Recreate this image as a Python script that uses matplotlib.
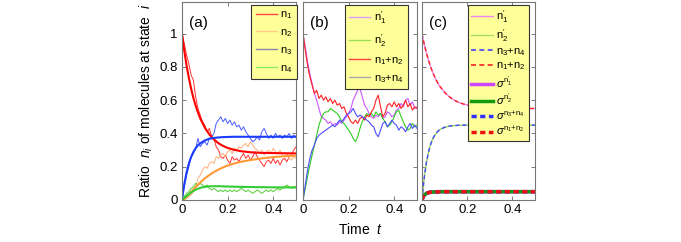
import matplotlib
matplotlib.use("Agg")
import matplotlib.pyplot as plt
from matplotlib.lines import Line2D

# smooth (mean-field) curves, sampled on a non-uniform time grid
t_smooth = [0, 0.005, 0.01, 0.02, 0.03, 0.04, 0.05, 0.06, 0.07, 0.08, 0.1, 0.12,
            0.14, 0.16, 0.18, 0.2, 0.23, 0.26, 0.3, 0.35, 0.4, 0.45, 0.5]
n1_smooth = [1.0, 0.947, 0.897, 0.809, 0.734, 0.669, 0.613, 0.566, 0.526, 0.49, 0.435, 0.394,
             0.364, 0.341, 0.325, 0.313, 0.301, 0.293, 0.287, 0.283, 0.282, 0.281, 0.28]
n2_smooth = [0, 0.002, 0.006, 0.018, 0.033, 0.048, 0.063, 0.078, 0.092, 0.105, 0.13, 0.15,
             0.168, 0.183, 0.196, 0.207, 0.22, 0.23, 0.24, 0.25, 0.258, 0.263, 0.267]
n3_smooth = [0, 0.051, 0.095, 0.165, 0.219, 0.259, 0.289, 0.312, 0.329, 0.341, 0.358, 0.368,
             0.373, 0.376, 0.378, 0.379, 0.38, 0.38, 0.38, 0.38, 0.38, 0.38, 0.38]
n4_smooth = [0, 0.006, 0.012, 0.024, 0.035, 0.045, 0.054, 0.062, 0.068, 0.073, 0.079, 0.082,
             0.083, 0.083, 0.082, 0.081, 0.08, 0.079, 0.078, 0.077, 0.076, 0.076, 0.075]

# panel (c) curves
c_decay = [1.0, 0.967, 0.936, 0.881, 0.834, 0.793, 0.758, 0.729, 0.703, 0.681, 0.647, 0.621,
           0.602, 0.588, 0.578, 0.571, 0.563, 0.558, 0.554, 0.552, 0.551, 0.55, 0.55]
c_rise = [0, 0.073, 0.135, 0.23, 0.296, 0.342, 0.374, 0.397, 0.413, 0.424, 0.437, 0.444,
          0.447, 0.449, 0.45, 0.45, 0.45, 0.45, 0.45, 0.45, 0.45, 0.45, 0.45]
c_sigma = [0, 0.02, 0.03, 0.04, 0.045, 0.047, 0.048, 0.049, 0.049, 0.05, 0.05, 0.05,
           0.05, 0.05, 0.05, 0.05, 0.05, 0.05, 0.05, 0.05, 0.05, 0.05, 0.05]

# stochastic runs, every 0.01
t_run = [i / 100 for i in range(51)]
n1_run = [1.0, 0.94, 0.87, 0.82, 0.75, 0.72, 0.62, 0.55, 0.51, 0.47, 0.45, 0.41, 0.43, 0.38, 0.37,
          0.32, 0.3, 0.26, 0.25, 0.27, 0.24, 0.22, 0.26, 0.24, 0.25, 0.23, 0.26, 0.28, 0.25, 0.27,
          0.24, 0.26, 0.29, 0.26, 0.24, 0.22, 0.2, 0.23, 0.24, 0.22, 0.25, 0.22, 0.24, 0.21, 0.24,
          0.25, 0.23, 0.26, 0.27, 0.3, 0.32]
n2_run = [0, 0, 0.01, 0.02, 0.03, 0.05, 0.08, 0.13, 0.15, 0.18, 0.2, 0.19, 0.22, 0.23, 0.22,
          0.26, 0.25, 0.27, 0.28, 0.26, 0.29, 0.3, 0.28, 0.31, 0.3, 0.32, 0.31, 0.33, 0.34, 0.32,
          0.35, 0.33, 0.31, 0.3, 0.28, 0.3, 0.27, 0.29, 0.3, 0.28, 0.31, 0.29, 0.28, 0.3, 0.27,
          0.26, 0.28, 0.25, 0.24, 0.26, 0.25]
n3_run = [0, 0.08, 0.15, 0.2, 0.26, 0.28, 0.31, 0.37, 0.32, 0.34, 0.35, 0.33, 0.37, 0.38, 0.4,
          0.46, 0.48, 0.5, 0.47, 0.49, 0.46, 0.48, 0.45, 0.47, 0.44, 0.45, 0.42, 0.44, 0.41, 0.39,
          0.37, 0.35, 0.36, 0.38, 0.36, 0.41, 0.43, 0.4, 0.37, 0.39, 0.37, 0.4, 0.38, 0.39, 0.37,
          0.39, 0.38, 0.4, 0.37, 0.39, 0.38]
n4_run = [0, 0.02, 0.04, 0.05, 0.07, 0.08, 0.1, 0.09, 0.1, 0.09, 0.08, 0.09, 0.07, 0.06, 0.07,
          0.06, 0.05, 0.06, 0.05, 0.06, 0.05, 0.06, 0.05, 0.06, 0.05, 0.06, 0.07, 0.06, 0.05, 0.06,
          0.05, 0.04, 0.05, 0.06, 0.05, 0.04, 0.05, 0.06, 0.05, 0.06, 0.05, 0.06, 0.07, 0.06, 0.07,
          0.08, 0.09, 0.08, 0.07, 0.08, 0.08]

n1p_run = [1.0, 0.92, 0.83, 0.76, 0.7, 0.64, 0.6, 0.55, 0.5, 0.49, 0.48, 0.46, 0.47, 0.45, 0.46,
           0.45, 0.47, 0.46, 0.48, 0.5, 0.52, 0.55, 0.6, 0.63, 0.66, 0.67, 0.62, 0.57, 0.55, 0.52,
           0.5, 0.49, 0.51, 0.5, 0.52, 0.49, 0.5, 0.53, 0.52, 0.5, 0.51, 0.54, 0.55, 0.58, 0.56,
           0.6, 0.61, 0.57, 0.59, 0.55, 0.56]
n2p_run = [0, 0.07, 0.14, 0.21, 0.27, 0.33, 0.39, 0.45, 0.49, 0.52, 0.53, 0.53, 0.55, 0.54, 0.53,
           0.52, 0.5, 0.47, 0.46, 0.44, 0.42, 0.4, 0.37, 0.35, 0.38, 0.43, 0.47, 0.5, 0.52, 0.51,
           0.52, 0.5, 0.53, 0.51, 0.52, 0.49, 0.47, 0.44, 0.45, 0.47, 0.5, 0.53, 0.54, 0.5, 0.47,
           0.44, 0.42, 0.43, 0.46, 0.44, 0.45]
n12_run = [1.0, 0.9, 0.81, 0.74, 0.69, 0.64, 0.66, 0.61, 0.63, 0.6, 0.62, 0.59, 0.61, 0.58, 0.6,
           0.57, 0.58, 0.55, 0.56, 0.52, 0.5, 0.47, 0.46, 0.48, 0.46, 0.49, 0.5, 0.48, 0.51, 0.5,
           0.53, 0.55, 0.6, 0.63, 0.56, 0.5, 0.52, 0.57, 0.58, 0.56, 0.59, 0.56, 0.58, 0.55, 0.57,
           0.6, 0.56, 0.58, 0.54, 0.56, 0.55]
n34_run = [0, 0.09, 0.18, 0.25, 0.3, 0.33, 0.37, 0.39, 0.4, 0.41, 0.42, 0.43, 0.44, 0.45, 0.44,
           0.46, 0.48, 0.47, 0.49, 0.51, 0.52, 0.53, 0.55, 0.52, 0.5, 0.51, 0.5, 0.49, 0.48, 0.47,
           0.45, 0.44, 0.4, 0.38, 0.42, 0.46, 0.47, 0.44, 0.46, 0.48, 0.46, 0.45, 0.42, 0.44, 0.43,
           0.41, 0.44, 0.46, 0.43, 0.45, 0.43]

x_ticks = [0, 0.2, 0.4]
y_ticks = [0, 0.2, 0.4, 0.6, 0.8, 1]
y_ticklabels = ["0", "0.2", "0.4", "0.6", "0.8", "1"]

plt.rcParams["font.family"] = ["Liberation Sans", "DejaVu Sans"]
plt.rcParams["mathtext.fontset"] = "custom"
plt.rcParams["mathtext.rm"] = "Liberation Sans"
plt.rcParams["mathtext.it"] = "Liberation Sans:italic"

fig = plt.figure(figsize=(6.81, 2.42), dpi=100)
W, H = 681, 242
ax_a = fig.add_axes([182 / W, 42 / H, 114 / W, 198 / H])
ax_b = fig.add_axes([303 / W, 42 / H, 114 / W, 198 / H])
ax_c = fig.add_axes([422 / W, 42 / H, 113 / W, 198 / H])

for ax in (ax_a, ax_b, ax_c):
    ax.set_xlim(0, 0.5)
    ax.set_ylim(0, 1.19)
    ax.set_xticks(x_ticks)
    ax.set_xticklabels(["0", "0.2", "0.4"])
    ax.set_yticks(y_ticks)
    ax.tick_params(direction="in", top=True, right=True, length=3, width=0.6,
                   color="#666666", labelsize=9.5, pad=3)
    for s in ax.spines.values():
        s.set_color("#777777")
        s.set_linewidth(0.8)

ax_a.set_yticklabels(y_ticklabels)
ax_b.set_yticklabels([])
ax_c.set_yticklabels([])

# panel (a)
ax_a.plot(t_run, n1_run, color="#ff3030", lw=0.7)
ax_a.plot(t_run, n2_run, color="#ffb07a", lw=0.7)
ax_a.plot(t_run, n3_run, color="#4a5cff", lw=0.7)
ax_a.plot(t_run, n4_run, color="#55cc33", lw=0.7)
ax_a.plot(t_smooth, n1_smooth, color="#ff0000", lw=1.5)
ax_a.plot(t_smooth, n2_smooth, color="#ff9933", lw=1.5)
ax_a.plot(t_smooth, n3_smooth, color="#1a3cff", lw=1.5)
ax_a.plot(t_smooth, n4_smooth, color="#33cc33", lw=1.5)

# panel (b)
ax_b.plot(t_run, n1p_run, color="#cc55ff", lw=0.8)
ax_b.plot(t_run, n2p_run, color="#33cc22", lw=0.8)
ax_b.plot(t_run, n12_run, color="#ff2020", lw=0.8)
ax_b.plot(t_run, n34_run, color="#4d4dff", lw=0.8)

# panel (c)
ax_c.plot(t_smooth, c_decay, color="#ee88ee", lw=1.0)
ax_c.plot(t_smooth, c_rise, color="#99dd55", lw=1.0)
ax_c.plot(t_smooth, c_rise, color="#4444ff", lw=1.0, ls=(0, (3, 2)))
ax_c.plot(t_smooth, c_decay, color="#ff2222", lw=1.0, ls=(0, (3, 2)))
ax_c.plot(t_smooth, c_sigma, color="#cc44ff", lw=2.5)
ax_c.plot(t_smooth, c_sigma, color="#119911", lw=2.5)
ax_c.plot(t_smooth, c_sigma, color="#3333ff", lw=2.5, ls=(0, (1.5, 1)))
ax_c.plot(t_smooth, c_sigma, color="#ee1111", lw=2.5, ls=(0, (1.5, 1)))

leg_kw = dict(loc="upper right", fontsize=8, frameon=True, fancybox=False,
              facecolor="#ffff99", edgecolor="#333333", framealpha=1,
              handlelength=1.9, handletextpad=0.3, labelspacing=0.55, borderpad=0.4,
              borderaxespad=0.0)

h_a = [Line2D([], [], color="#ff4444", lw=1.0), Line2D([], [], color="#ffcc88", lw=1.0),
       Line2D([], [], color="#8888aa", lw=1.0), Line2D([], [], color="#88ee66", lw=1.0)]
l_a = [r"$\mathrm{n}_1$", r"$\mathrm{n}_2$", r"$\mathrm{n}_3$", r"$\mathrm{n}_4$"]
lg = ax_a.legend(h_a, l_a, bbox_to_anchor=(297 / W, 1 - 5 / H),
                 bbox_transform=fig.transFigure, **leg_kw)
lg.get_frame().set_linewidth(0.8)

h_b = [Line2D([], [], color="#dd99ff", lw=1.0), Line2D([], [], color="#99dd55", lw=1.0),
       Line2D([], [], color="#ff4444", lw=1.0), Line2D([], [], color="#aaaaaa", lw=1.0)]
l_b = [r"$\mathrm{n}_1^{\prime}$", r"$\mathrm{n}_2^{\prime}$",
       r"$\mathrm{n}_1\mathrm{+n}_2$", r"$\mathrm{n}_3\mathrm{+n}_4$"]
lg = ax_b.legend(h_b, l_b, bbox_to_anchor=(408 / W, 1 - 5 / H),
                 bbox_transform=fig.transFigure, **leg_kw)
lg.get_frame().set_linewidth(0.8)

h_c = [Line2D([], [], color="#ee88ee", lw=1.0),
       Line2D([], [], color="#aadd66", lw=1.0),
       Line2D([], [], color="#4444ff", lw=1.2, ls=(0, (3, 2))),
       Line2D([], [], color="#ff2222", lw=1.2, ls=(0, (3, 2))),
       Line2D([], [], color="#cc44ff", lw=2.5),
       Line2D([], [], color="#119911", lw=2.5),
       Line2D([], [], color="#3333ff", lw=2.5, ls=(0, (1.5, 1))),
       Line2D([], [], color="#ee1111", lw=2.5, ls=(0, (1.5, 1)))]
l_c = [r"$\mathrm{n}_1^{\prime}$", r"$\mathrm{n}_2^{\prime}$",
       r"$\mathrm{n}_3\mathrm{+n}_4$", r"$\mathrm{n}_1\mathrm{+n}_2$",
       r"$\sigma^{\mathrm{n}_1^{\prime}}$", r"$\sigma^{\mathrm{n}_2^{\prime}}$",
       r"$\sigma^{\mathrm{n}_3\mathrm{+n}_4}$", r"$\sigma^{\mathrm{n}_1\mathrm{+n}_2}$"]
leg_kw["labelspacing"] = 0.2
leg_kw["borderpad"] = 0.3
lg = ax_c.legend(h_c, l_c, bbox_to_anchor=(529 / W, 1 - 5 / H),
                 bbox_transform=fig.transFigure, **leg_kw)
lg.get_frame().set_linewidth(0.8)

for ax, lab in ((ax_a, "(a)"), (ax_b, "(b)"), (ax_c, "(c)")):
    ax.text(0.06, 0.93, lab, transform=ax.transAxes, fontsize=11, va="top", ha="left")

ax_a.set_ylabel(r"Ratio  $n_i$ of molecules at state  $i$", fontsize=10, labelpad=3)
ax_b.set_xlabel(r"Time  $t$", fontsize=10, labelpad=4)

fig.savefig("out.png", dpi=100)
